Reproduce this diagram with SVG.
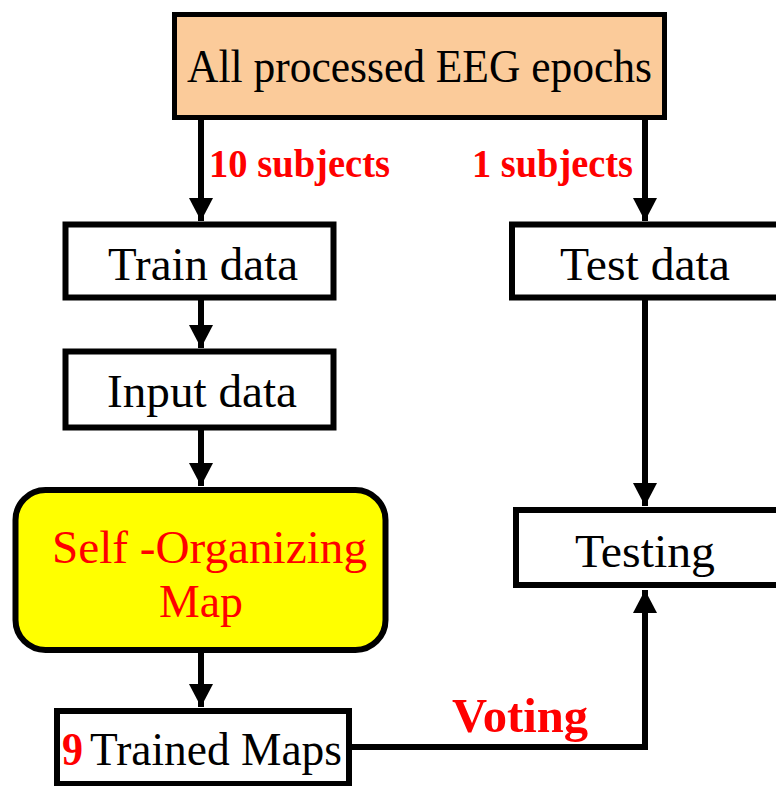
<svg xmlns="http://www.w3.org/2000/svg" width="776" height="786" viewBox="0 0 776 786">
  <defs>
    <marker id="arrow" markerWidth="24" markerHeight="24" viewBox="0 0 24 24" refX="23" refY="12" orient="auto" markerUnits="userSpaceOnUse">
      <path d="M0,0 L23,12 L0,24 Z" fill="#000"/>
    </marker>
    <style>
      .box { fill: #fff; stroke: #000; stroke-width: 6; }
      .lbl { font-family: "Liberation Serif", "Times New Roman", serif; font-size: 47px; fill: #000; }
      .red { font-family: "Liberation Serif", "Times New Roman", serif; font-weight: bold; fill: #f00; }
      .som { fill: #f00; }
      .conn { fill: none; stroke: #000; stroke-width: 6; marker-end: url(#arrow); }
    </style>
  </defs>

  <rect width="776" height="786" fill="#fff"/>

  <!-- connectors -->
  <g id="connectors">
    <path class="conn" d="M201,120 V221"/>
    <path class="conn" d="M645,120 V221"/>
    <path class="conn" d="M201,300 V348"/>
    <path class="conn" d="M201,430 V486"/>
    <path class="conn" d="M201,653 V707"/>
    <path class="conn" d="M645,300 V506"/>
    <path class="conn" d="M352,747 H645 V590"/>
    <text class="red" x="209" y="177" font-size="39" textLength="181" lengthAdjust="spacingAndGlyphs">10 subjects</text>
    <text class="red" x="472" y="177" font-size="39" textLength="161" lengthAdjust="spacingAndGlyphs">1 subjects</text>
    <text class="red" x="452" y="732" font-size="48" textLength="136" lengthAdjust="spacingAndGlyphs">Voting</text>
  </g>

  <g id="all-epochs">
    <rect x="174.5" y="14.5" width="490" height="103" fill="#fbcb9a" stroke="#000" stroke-width="5"/>
    <text class="lbl" x="187" y="82" font-size="42" textLength="465" lengthAdjust="spacingAndGlyphs">All processed EEG epochs</text>
  </g>

  <g id="train-data">
    <rect class="box" x="65.5" y="224.5" width="268" height="73"/>
    <text class="lbl" x="108" y="280" textLength="190" lengthAdjust="spacingAndGlyphs">Train data</text>
  </g>

  <g id="test-data">
    <rect class="box" x="512" y="224.5" width="280" height="73"/>
    <text class="lbl" x="560" y="280" textLength="170" lengthAdjust="spacingAndGlyphs">Test data</text>
  </g>

  <g id="input-data">
    <rect class="box" x="65.5" y="351.5" width="268" height="76"/>
    <text class="lbl" x="107" y="406.5" textLength="190" lengthAdjust="spacingAndGlyphs">Input data</text>
  </g>

  <g id="som">
    <rect x="15.5" y="490" width="370" height="160" rx="30" ry="30" fill="#ffff00" stroke="#000" stroke-width="6"/>
    <text class="lbl som" x="52" y="563" textLength="315" lengthAdjust="spacingAndGlyphs">Self -Organizing</text>
    <text class="lbl som" x="159" y="617" textLength="84" lengthAdjust="spacingAndGlyphs">Map</text>
  </g>

  <g id="testing">
    <rect class="box" x="516" y="510" width="280" height="75"/>
    <text class="lbl" x="575" y="567" textLength="140" lengthAdjust="spacingAndGlyphs">Testing</text>
  </g>

  <g id="trained-maps">
    <rect class="box" x="57" y="711" width="292" height="73"/>
    <text class="red" x="62" y="765" font-size="46" textLength="21" lengthAdjust="spacingAndGlyphs">9</text>
    <text class="lbl" x="90" y="765" font-size="46" textLength="252" lengthAdjust="spacingAndGlyphs">Trained Maps</text>
  </g>
</svg>
